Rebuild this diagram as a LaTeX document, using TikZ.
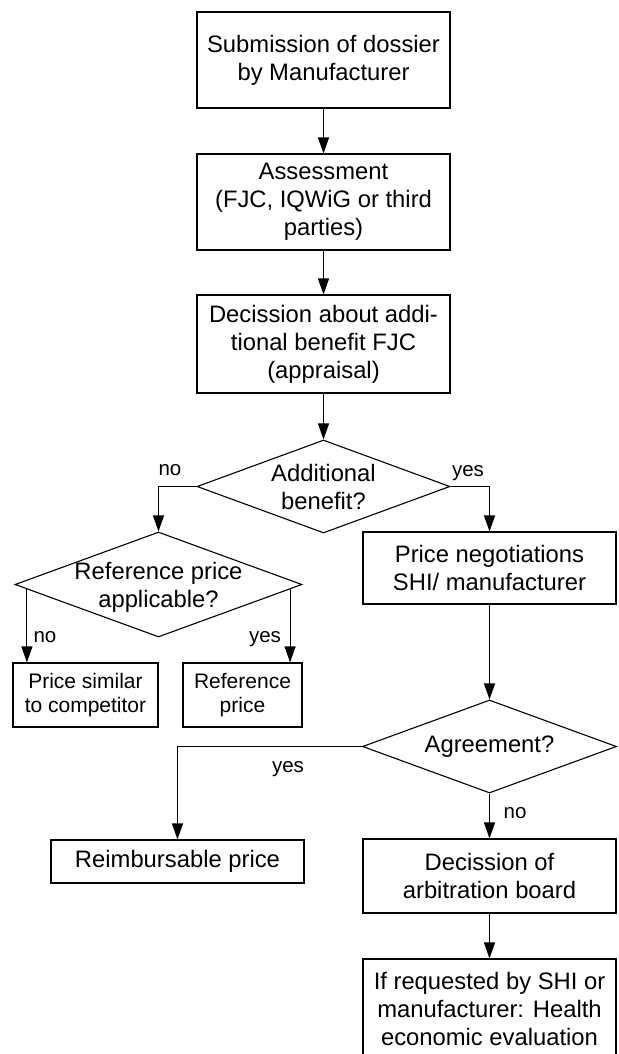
\documentclass[tikz,border=0pt]{standalone}
\usepackage{fontspec}
\setmainfont{Liberation Sans}
\usetikzlibrary{shapes.geometric,arrows.meta}
\begin{document}
\begin{tikzpicture}[x=1pt,y=-1pt,
  box/.style={draw, line width=1.1pt, inner sep=0pt, align=center, font=\fontsize{23.8}{28}\selectfont},
  sbox/.style={draw, line width=1.1pt, inner sep=0pt, align=center, font=\fontsize{21}{24}\selectfont},
  dia/.style={draw, diamond, line width=1.1pt, inner sep=0pt},
  dtext/.style={align=center, font=\fontsize{23.8}{28}\selectfont, inner sep=0pt},
  lab/.style={anchor=base, inner sep=0pt, font=\fontsize{20.5}{24}\selectfont},
  arr/.style={line width=1.1pt, -{Triangle[length=16pt,width=11pt]}}
]
\clip (0,0) rectangle (618,1054);
\useasboundingbox (0,0) rectangle (618,1054);

\node[box, minimum width=253pt, minimum height=96pt] (b1) at (323.5,60) {Submission of dossier\\by Manufacturer};
\node[box, minimum width=253pt, minimum height=96pt] (b2) at (323.5,202) {Assessment\\(FJC, IQWiG or third\\parties)};
\node[box, minimum width=253pt, minimum height=98pt] (b3) at (323.5,344) {Decission about addi-\\tional benefit FJC\\(appraisal)};
\node[dia, minimum width=253pt, minimum height=93pt] (d1) at (323.5,486.5) {};
\node[dtext] (d1t) at (323.5,487) {Additional\\benefit?};
\node[dia, minimum width=287pt, minimum height=105pt] (d2) at (158.5,584.5) {};
\node[dtext] (d2t) at (158.5,587.5) {Reference price\\applicable?};
\node[sbox, minimum width=145pt, minimum height=64pt] (ps) at (85.5,695) {Price similar\\to competitor};
\node[sbox, minimum width=119pt, minimum height=64pt] (rp) at (242.5,695) {Reference\\price};
\node[box, minimum width=253pt, minimum height=72pt] (pn) at (489.5,568) {Price negotiations\\SHI/ manufacturer};
\node[dia, minimum width=254pt, minimum height=93pt] (d3) at (489.5,746.5) {};
\node[dtext] (d3t) at (489.5,747) {Agreement?};
\node[box, minimum width=253pt, minimum height=43pt] (rb) at (177.5,861.5) {Reimbursable price};
\node[box, minimum width=253pt, minimum height=74pt] (db) at (489.5,876) {Decission of\\arbitration board};
\node[box, minimum width=253pt, minimum height=99pt] (fb) at (489.5,1008.5) {If requested by SHI or\\manufacturer: Health\\economic evaluation};

\draw[arr] (b1) -- (b2);
\draw[arr] (b2) -- (b3);
\draw[arr] (b3) -- (d1);
\draw[arr] (d1.west) -| (d2.north);
\draw[arr] (d1.east) -| (pn.north);
\draw[arr] (d2.182) -- (d2.182 |- ps.north);
\draw[arr] (d2.358) -- (d2.358 |- rp.north);
\draw[arr] (pn) -- (d3);
\draw[arr] (d3.west) -| (rb.north);
\draw[arr] (d3) -- (db);
\draw[arr] (db) -- (fb);

\node[lab] (l1) at (170,475) {no};
\node[lab] (l2) at (468,476) {yes};
\node[lab] (l3) at (45,642) {no};
\node[lab] (l4) at (265,642) {yes};
\node[lab] (l5) at (288,772) {yes};
\node[lab] (l6) at (515,818) {no};
\end{tikzpicture}
\end{document}
